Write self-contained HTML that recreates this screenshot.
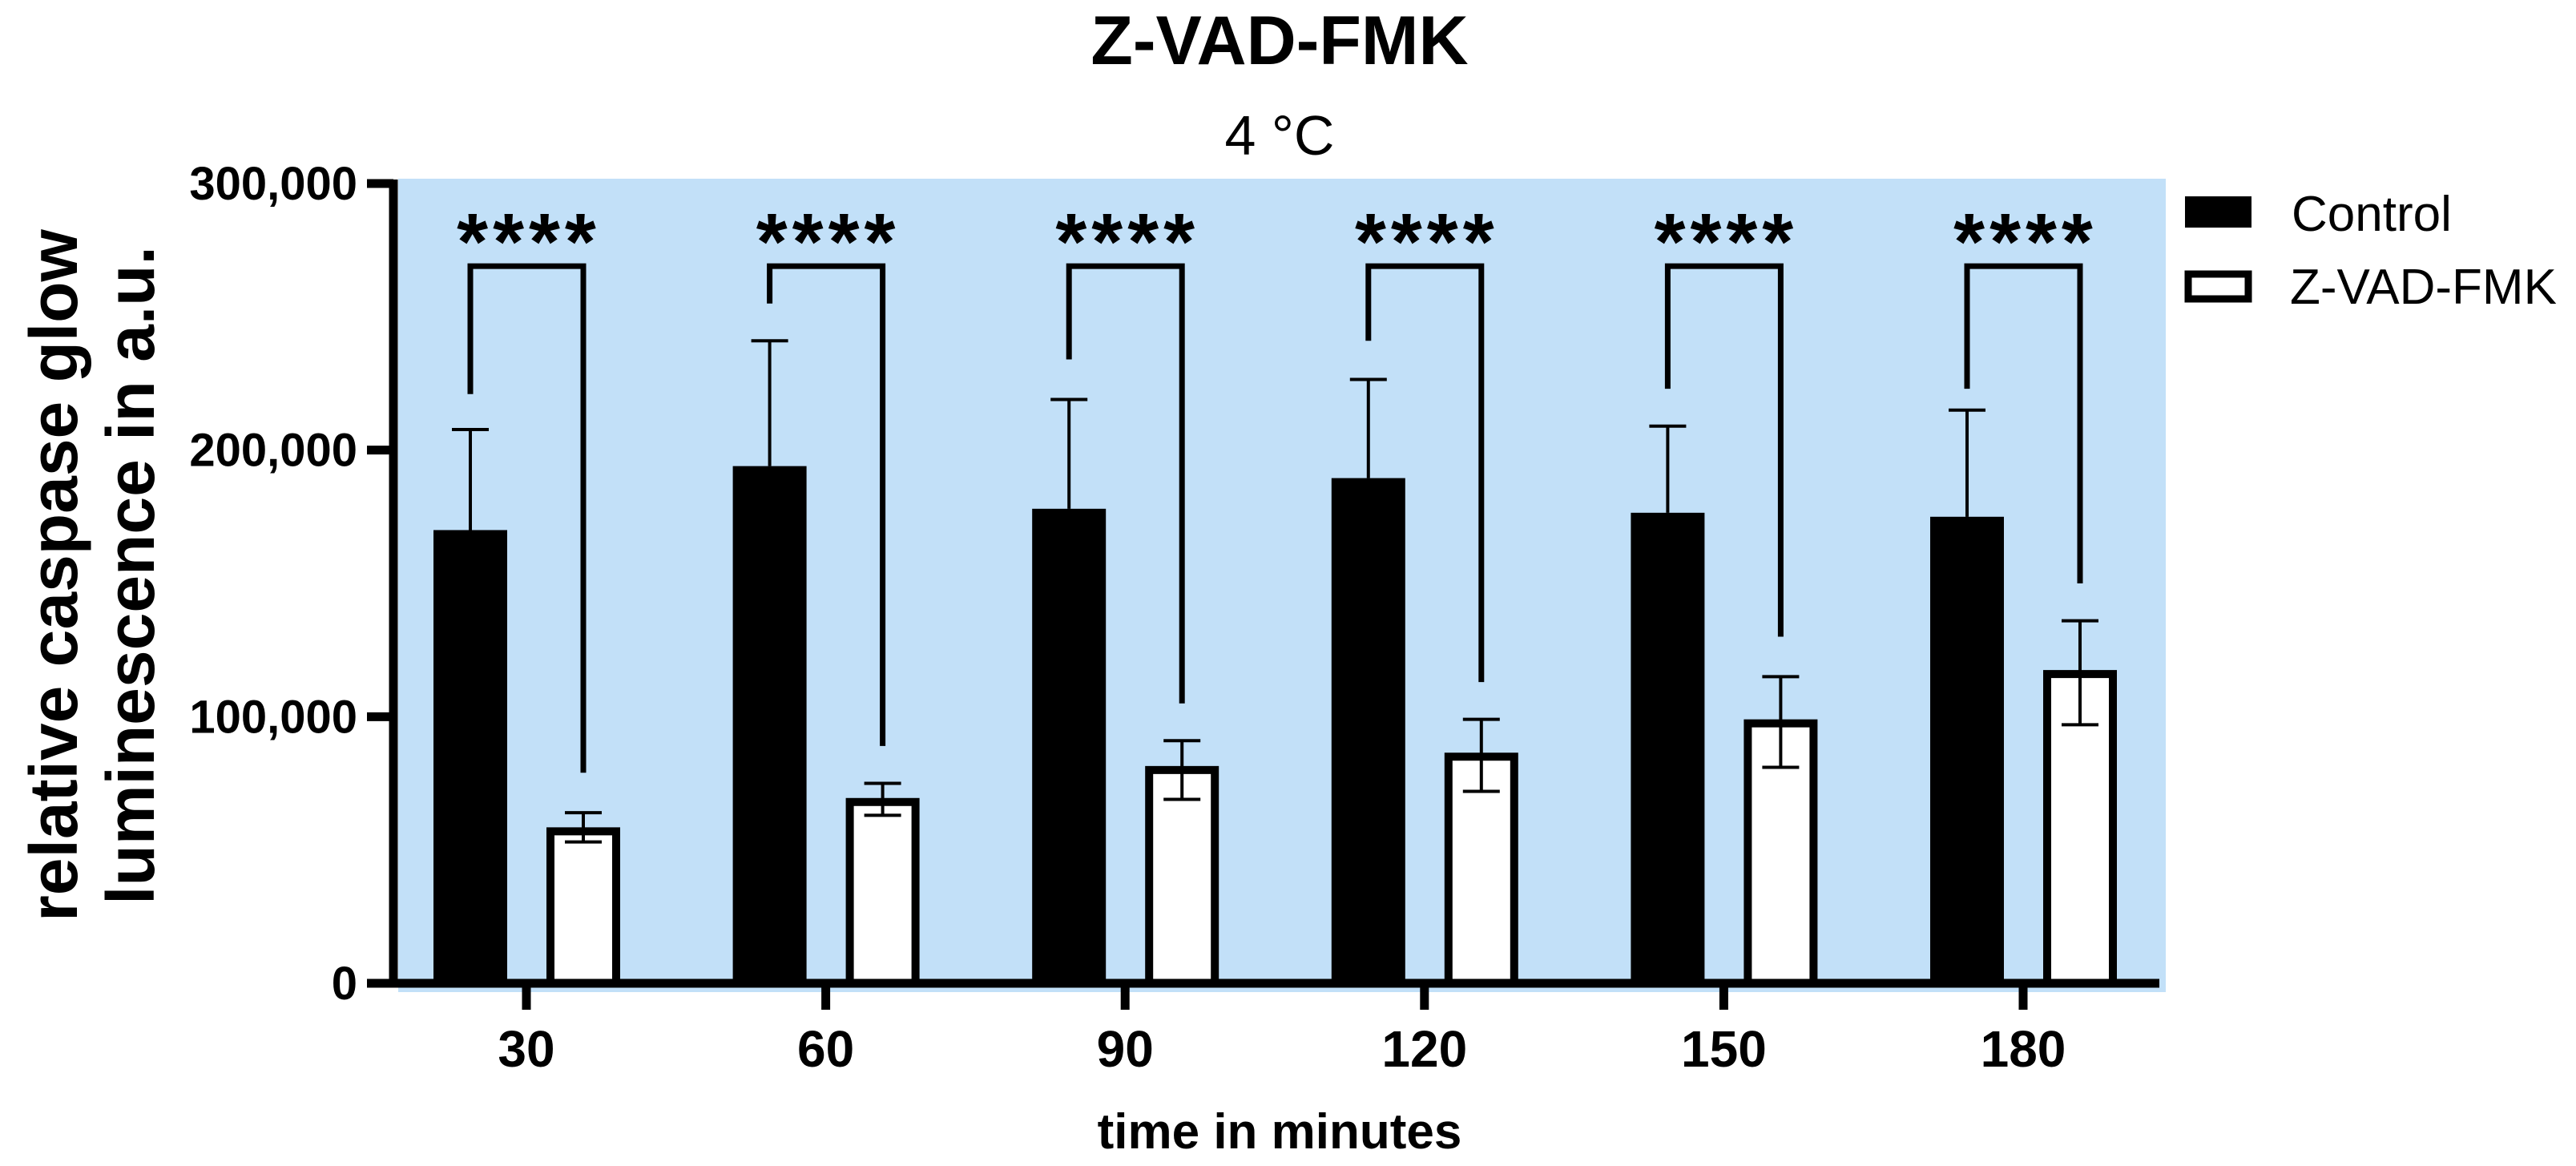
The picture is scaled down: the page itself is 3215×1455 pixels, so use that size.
<!DOCTYPE html>
<html><head><meta charset="utf-8"><style>
html,body{margin:0;padding:0;background:#fff}
svg{display:block}
text{font-family:"Liberation Sans",Arial,sans-serif}
</style></head><body>
<svg id="chart" width="3215" height="1455" viewBox="0 0 3215 1455">
<rect x="497" y="223" width="2206" height="1015" fill="#c2e0f8"/>
<g id="marks"></g>
<text x="1597" y="80" font-size="86" font-weight="bold" text-anchor="middle">Z-VAD-FMK</text>
<text x="1597" y="193" font-size="70" text-anchor="middle">4 °C</text>
<text transform="translate(96,718) rotate(-90)" font-size="84" font-weight="bold" text-anchor="middle">relative caspase glow</text>
<text transform="translate(192,718) rotate(-90)" font-size="84" font-weight="bold" text-anchor="middle">luminescence in a.u.</text>
<text x="1597" y="1433" font-size="62" font-weight="bold" text-anchor="middle">time in minutes</text>
<g>
<rect x="2727" y="245" width="83" height="39" fill="#000"/>
<text x="2860" y="288" font-size="62">Control</text>
<rect x="2731" y="342" width="75" height="31" fill="#fff" stroke="#000" stroke-width="9"/>
<text x="2858" y="379" font-size="62">Z-VAD-FMK</text>
</g>
</svg>
<script>
const categories = ["30","60","90","120","150","180"];
const controlMean = [170000,194000,178000,189500,176500,175000];
const controlErr = [207700,241000,219000,226500,209000,215000];
const zvadMean = [57000,68000,80000,85000,97500,116000];
const zvadErrHi = [64000,75000,91000,99000,115000,136000];
const zvadErrLo = [53000,63000,69000,72000,81000,97000];
const bracketTop = [269000,269000,269000,269000,269000,269000];
const bracketLeft = [221000,255000,234000,241000,223000,223000];
const bracketRight = [79000,89000,105000,113000,130000,150000];
const yTicks = [0,100000,200000,300000];
const yTickLabels = ["0","100,000","200,000","300,000"];
const sigLabels = ["****","****","****","****","****","****"];

const NS="http://www.w3.org/2000/svg";
const g=document.getElementById('marks');
const y0=1227, yScale=998/300000;
function y(v){return y0-v*yScale;}
function xc(i){return 657+i*373.6;}
function el(tag,attrs,parent){const e=document.createElementNS(NS,tag);for(const k in attrs)e.setAttribute(k,attrs[k]);(parent||g).appendChild(e);return e;}

categories.forEach((c,i)=>{
  const cx=xc(i), lx=cx-70, rx=cx+71;
  let e=el('line',{x1:lx,x2:lx,y1:y(controlErr[i]),y2:y(controlMean[i]),stroke:'#000','stroke-width':4});
  
  
  e=el('line',{x1:lx-23,x2:lx+23,y1:y(controlErr[i]),y2:y(controlErr[i]),stroke:'#000','stroke-width':4});
  
  
  let b=el('rect',{x:lx-46,y:y(controlMean[i]),width:92,height:y(0)-y(controlMean[i]),fill:'#000'});
  
  
  let w=el('rect',{x:rx-41,y:y(zvadMean[i]),width:82,height:y(0)-y(zvadMean[i]),fill:'#fff',stroke:'#000','stroke-width':10});
  
  
  e=el('line',{x1:rx,x2:rx,y1:y(zvadErrHi[i]),y2:y(zvadErrLo[i]),stroke:'#000','stroke-width':4});
  
  
  [zvadErrHi[i],zvadErrLo[i]].forEach(v=>{
    const cap=el('line',{x1:rx-23,x2:rx+23,y1:y(v),y2:y(v),stroke:'#000','stroke-width':4});
    
    
  });
  const br=el('path',{d:`M${lx},${y(bracketLeft[i])} V${y(bracketTop[i])} H${rx} V${y(bracketRight[i])}`,fill:'none',stroke:'#000','stroke-width':7});
  
  
  const st=el('text',{x:cx+3,y:y(bracketTop[i])+4,'font-size':100,'font-weight':'bold','text-anchor':'middle','letter-spacing':6});
  st.textContent=sigLabels[i];
  
  
  const t=el('line',{x1:cx,x2:cx,y1:y0,y2:1260,stroke:'#000','stroke-width':11});
  
  
  const tl=el('text',{x:cx,y:1331,'font-size':64,'font-weight':'bold','text-anchor':'middle'});
  tl.textContent=c;
  
  
});
let ax=el('line',{x1:490,x2:2695,y1:y0,y2:y0,stroke:'#000','stroke-width':11});


ax=el('line',{x1:491,x2:491,y1:y(300000)-5,y2:y0+5,stroke:'#000','stroke-width':11});


yTicks.forEach((v,i)=>{
  const t=el('line',{x1:458,x2:491,y1:y(v),y2:y(v),stroke:'#000','stroke-width':11});
  
  
  const tl=el('text',{x:446,y:y(v)+20,'font-size':58,'font-weight':'bold','text-anchor':'end'});
  tl.textContent=yTickLabels[i];
  
  
});
</script>
</body></html>
